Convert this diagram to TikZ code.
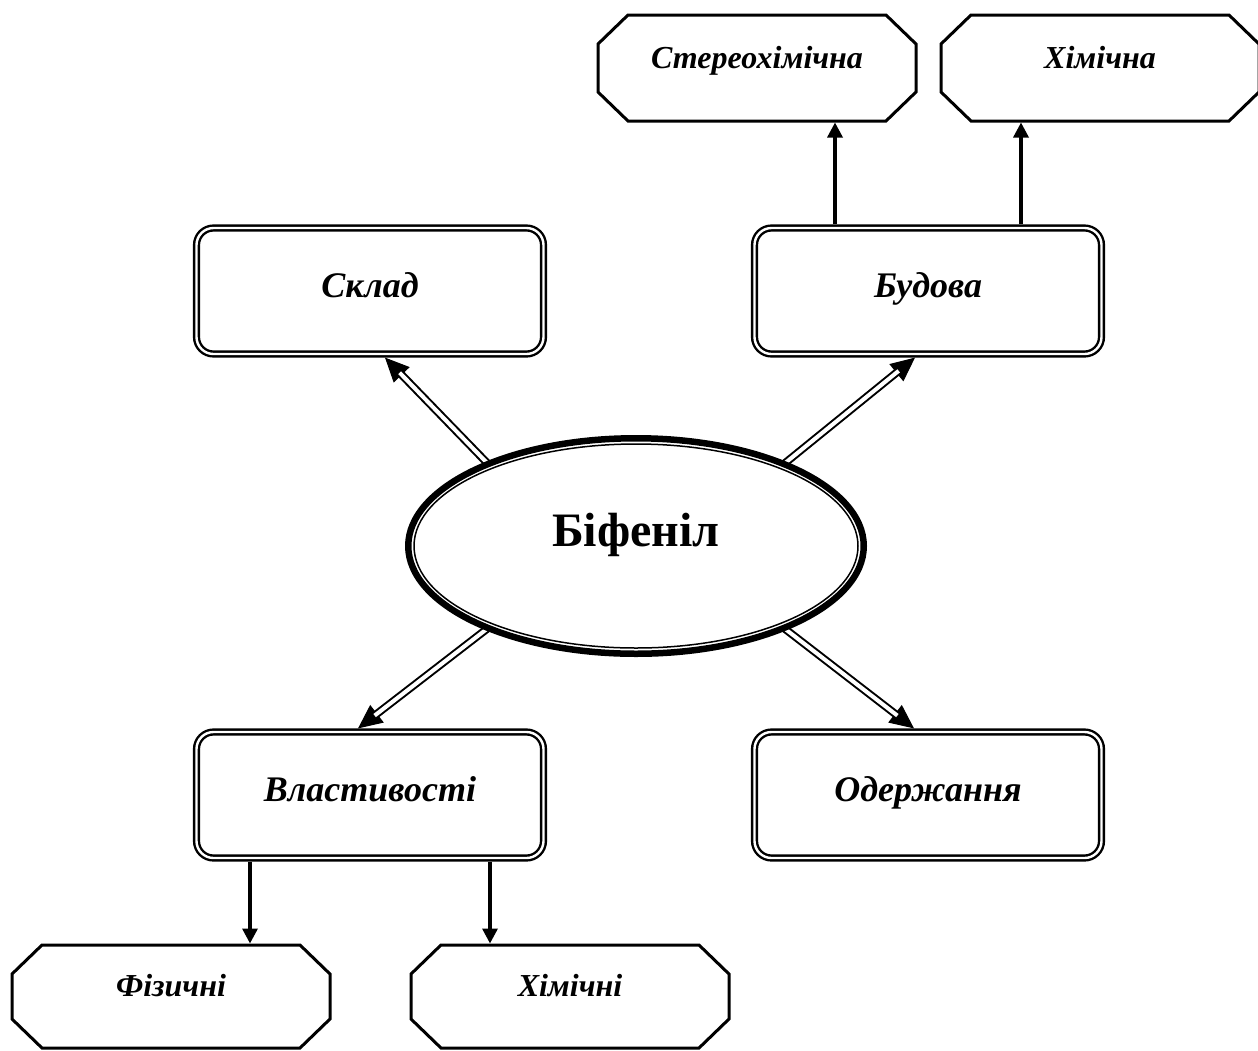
\documentclass[tikz,border=0pt]{standalone}
\usepackage{fontspec}
\setmainfont{Liberation Serif}
\usetikzlibrary{arrows.meta,shapes.geometric}
\pgfdeclarelayer{back}
\pgfsetlayers{back,main}
\begin{document}
\begin{tikzpicture}[x=1pt,y=-1pt,
  hub/.style={ellipse, draw, fill=white, line width=6.5pt,
    minimum width=455.5pt, minimum height=215.5pt, inner sep=0pt, outer sep=0pt,
    font=\fontsize{48}{52}\selectfont\bfseries, text height=35pt, text depth=35pt},
  topic/.style={draw, fill=white, double, line width=2.4pt, double distance=2.4pt,
    rounded corners=17pt, minimum width=347pt, minimum height=126pt,
    inner sep=0pt, outer sep=3.6pt,
    font=\fontsize{36}{40}\selectfont\bfseries\itshape, text height=26pt, text depth=14pt},
  leaf/.style={minimum width=318pt, inner sep=0pt, outer sep=0pt,
    font=\fontsize{32}{36}\selectfont\bfseries\itshape, text height=22pt, text depth=22pt},
  octagon/.style={line width=3pt, line join=miter},
  thinshaft/.style={line width=1pt, -{Triangle[length=24pt,width=22pt]}},
  dblshaft/.style={double, line width=2pt, double distance=4pt, shorten >=21pt},
  sarrow/.style={line width=3.3pt, -{Triangle[length=15pt,width=15pt]}}
]
\useasboundingbox (0,0) rectangle (1258,1050);

% central topic
\node[hub] (bif) at (636,546) {Біфеніл};
\draw[line width=1.5pt] (bif.center) ellipse [x radius=222pt, y radius=102pt];

% four branches
\node[topic] (sklad) at (370,291) {Склад};
\node[topic] (bud)   at (928,291) {Будова};
\node[topic] (vlast) at (370,795) {Властивості};
\node[topic] (oderzh) at (928,795) {Одержання};

% sub-topics
\node[leaf, minimum height=106pt] (ster) at (757,68) {Стереохімічна};
\node[leaf, minimum height=106pt] (khim) at (1100,68) {Хімічна};
\node[leaf, minimum height=103pt] (fiz)  at (171,996.5) {Фізичні};
\node[leaf, minimum height=103pt] (khimi) at (570,996.5) {Хімічні};

% octagonal frames around the sub-topics
\foreach \n in {ster, khim, fiz, khimi} {
  \draw[octagon]
    ([xshift=30pt]\n.north west) -- ([xshift=-30pt]\n.north east)
    -- ([yshift=-29pt]\n.north east) -- ([yshift=29pt]\n.south east)
    -- ([xshift=-30pt]\n.south east) -- ([xshift=30pt]\n.south west)
    -- ([yshift=29pt]\n.south west) -- ([yshift=-29pt]\n.north west) -- cycle;
}

% where the double arrows meet the branch boxes
\coordinate (tS) at ([xshift=15pt]sklad.south);
\coordinate (tB) at ([xshift=-13pt]bud.south);
\coordinate (tV) at ([xshift=-12pt]vlast.north);
\coordinate (tO) at ([xshift=-14pt]oderzh.north);

% double-line arrows from the centre
\begin{pgfonlayer}{back}
  \foreach \a/\b in {bif.151/tS, bif.29/tB, bif.209/tV, bif.331/tO} {
    \draw[thinshaft] (\a) -- (\b);
    \draw[dblshaft] (\a) -- (\b);
  }
\end{pgfonlayer}

% single arrows to the sub-topics
\coordinate (b1) at ([xshift=-93pt]bud.north);
\coordinate (b2) at ([xshift=93pt]bud.north);
\coordinate (v1) at ([xshift=-120pt]vlast.south);
\coordinate (v2) at ([xshift=120pt]vlast.south);
\coordinate (e1) at ([yshift=-1.5pt]b1 |- ster.south);
\coordinate (e2) at ([yshift=-1.5pt]b2 |- khim.south);
\coordinate (e3) at ([yshift=1.5pt]v1 |- fiz.north);
\coordinate (e4) at ([yshift=1.5pt]v2 |- khimi.north);
\draw[sarrow] (b1) -- (e1);
\draw[sarrow] (b2) -- (e2);
\draw[sarrow] (v1) -- (e3);
\draw[sarrow] (v2) -- (e4);
\end{tikzpicture}
\end{document}
